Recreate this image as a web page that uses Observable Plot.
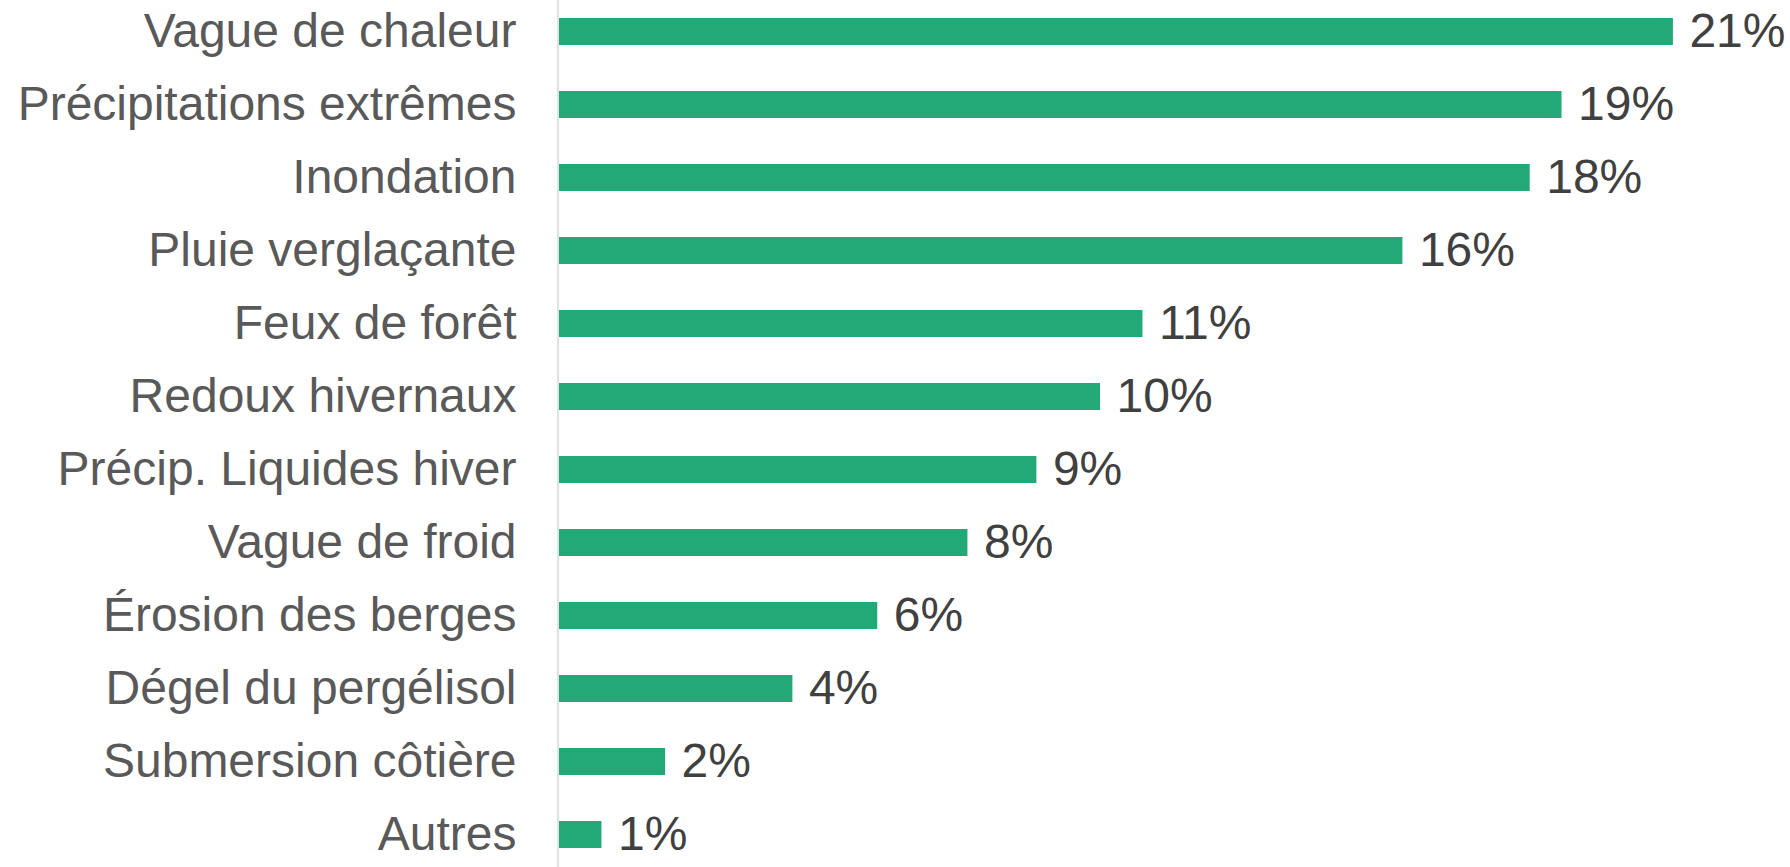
<!DOCTYPE html>
<html>
<head>
<meta charset="utf-8">
<script src="https://cdn.jsdelivr.net/npm/d3@7"></script>
<script src="https://cdn.jsdelivr.net/npm/@observablehq/plot@0.6"></script>
<style>
  html, body { margin: 0; padding: 0; background: #fff; }
  #chart svg { display: block; }
</style>
</head>
<body>
<div id="chart"></div>
<script>
const categories = [
  "Vague de chaleur",
  "Précipitations extrêmes",
  "Inondation",
  "Pluie verglaçante",
  "Feux de forêt",
  "Redoux hivernaux",
  "Précip. Liquides hiver",
  "Vague de froid",
  "Érosion des berges",
  "Dégel du pergélisol",
  "Submersion côtière",
  "Autres"
];
const values = [21.0, 18.9, 18.3, 15.9, 11.0, 10.2, 9.0, 7.7, 6.0, 4.4, 2.0, 0.8];
const valueLabels = ["21%", "19%", "18%", "16%", "11%", "10%", "9%", "8%", "6%", "4%", "2%", "1%"];

const data = categories.map((c, i) => ({category: c, value: values[i], label: valueLabels[i]}));

const chart = Plot.plot({
  width: 1790,
  height: 867,
  marginLeft: 559,
  marginRight: 11,
  marginTop: 0,
  marginBottom: 0,
  style: {fontFamily: "'Liberation Sans', Arial, sans-serif", background: "#fff"},
  x: {domain: [0, 23], axis: null},
  y: {domain: categories, paddingInner: 0.627, paddingOuter: 0.22, label: null},
  marks: [
    Plot.barX(data, {x: "value", y: "category", fill: "#23a977"}),
    Plot.ruleX([0], {dx: -1.5, stroke: "#d9d9d9", strokeWidth: 1.5}),
    Plot.axisY({tickSize: 0, tickPadding: 43, fontSize: 48, color: "#595959", label: null}),
    Plot.text(data, {x: "value", y: "category", text: "label", textAnchor: "start", dx: 16, fontSize: 48, fill: "#404040"})
  ]
});
document.getElementById("chart").appendChild(chart);
</script>
</body>
</html>
